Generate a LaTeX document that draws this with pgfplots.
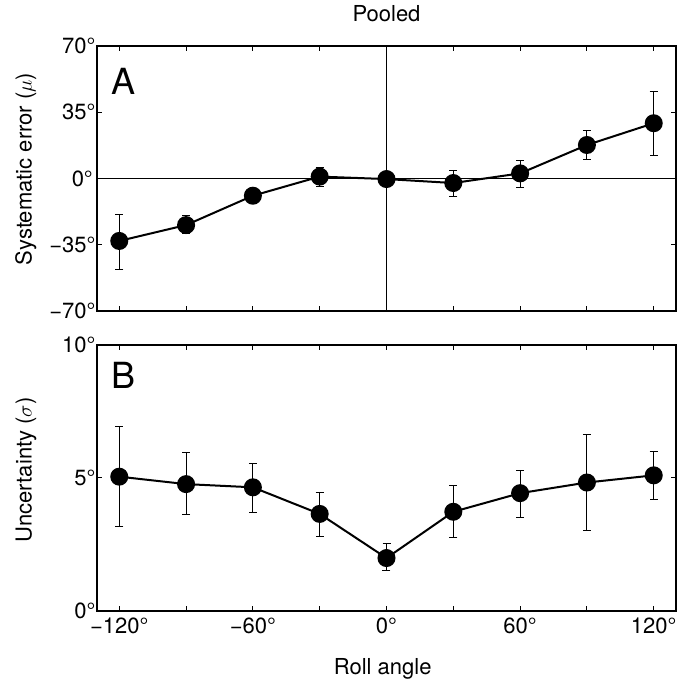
\documentclass[border=0pt]{standalone}
\usepackage{pgfplots}
\pgfplotsset{compat=1.18}
\usepackage{fontspec}
\setmainfont{TeX Gyre Heros}
\pgfplotstableread{
x y ep em
-120 -33.0 14.2 15.0
-90 -24.6 5.1 4.6
-60 -9.1 3.9 4.2
-30 1.0 4.9 5.3
0 -0.3 0.5 0.5
30 -2.4 6.7 7.0
60 2.7 6.9 7.2
90 17.7 7.8 7.8
120 29.2 16.7 17.2
}\errtable
\pgfplotstableread{
x y ep em
-120 5.05 1.88 1.89
-90 4.77 1.17 1.16
-60 4.65 0.90 0.95
-30 3.65 0.82 0.86
0 1.99 0.54 0.47
30 3.73 0.98 0.97
60 4.43 0.86 0.90
90 4.83 1.79 1.80
120 5.10 0.90 0.92
}\unctable
\begin{document}
\begin{tikzpicture}
\path[use as bounding box] (0pt,0pt) rectangle (678pt,681pt);
\pgfplotsset{
  panel/.style={
    scale only axis, width=579pt,
    xmin=-130, xmax=130,
    xtick={-120,-90,...,120},
    axis line style={line width=1.5pt},
    tick style={black, line width=1pt},
    major tick length=5pt,
    tick align=inside,
    tick pos=both,
    ticklabel style={font=\fontsize{22}{24}\selectfont},
    label style={font=\fontsize{22}{24}\selectfont},
    ylabel style={anchor=base},
    yticklabel style={xshift=2pt},
  },
  dataplot/.style={
    black, line width=2pt, mark=*, mark size=8pt,
    error bars/.cd, y dir=both, y explicit,
    error bar style={line width=1pt},
    error mark options={line width=1pt, mark size=4pt, rotate=90},
  },
}
\begin{axis}[panel, at={(97pt,635pt)}, anchor=north west, height=265pt,
  ymin=-70, ymax=70, ytick={-70,-35,0,35,70},
  yticklabels={{−70\textdegree},{−35\textdegree},{},{35\textdegree},{70\textdegree}},
  xticklabels={},
  ylabel={Systematic error ($\mu$)},
  ylabel style={at={(axis description cs:-0.1128,0.536)}},
  title={Pooled}, title style={font=\fontsize{22}{24}\selectfont, at={(axis description cs:0.5,1.0706)}, anchor=base},
  clip=false,
]
\draw[line width=1pt] (axis cs:-130,0) -- (axis cs:130,0);
\draw[line width=1pt] (axis cs:0,-70) -- (axis cs:0,70);
\addplot[dataplot] table[x=x, y=y, y error plus=ep, y error minus=em] {\errtable};
\node[font=\fontsize{22}{24}\selectfont, anchor=east, inner sep=0pt] at ([xshift=-4pt]axis description cs:0,0.5) {0\textdegree};
\node[font=\fontsize{36}{40}\selectfont, anchor=center] at (axis description cs:0.0458,0.866) {A};
\end{axis}
\begin{axis}[panel, at={(97pt,336pt)}, anchor=north west, height=266pt,
  ymin=0, ymax=10, ytick={0,5,10},
  yticklabels={{0\textdegree},{5\textdegree},{10\textdegree}},
  xticklabels={{−120\textdegree},,{−60\textdegree},,{0\textdegree},,{60\textdegree},,{120\textdegree}},
  ylabel={Uncertainty ($\sigma$)},
  ylabel style={at={(axis description cs:-0.1128,0.530)}},
  xlabel={Roll angle},
  xlabel style={at={(axis description cs:0.4935,-0.2406)}, anchor=base},
  xticklabel style={yshift=-3pt},
]
\addplot[dataplot] table[x=x, y=y, y error plus=ep, y error minus=em] {\unctable};
\node[font=\fontsize{36}{40}\selectfont, anchor=center] at (axis description cs:0.0464,0.885) {B};
\end{axis}
\end{tikzpicture}
\end{document}
